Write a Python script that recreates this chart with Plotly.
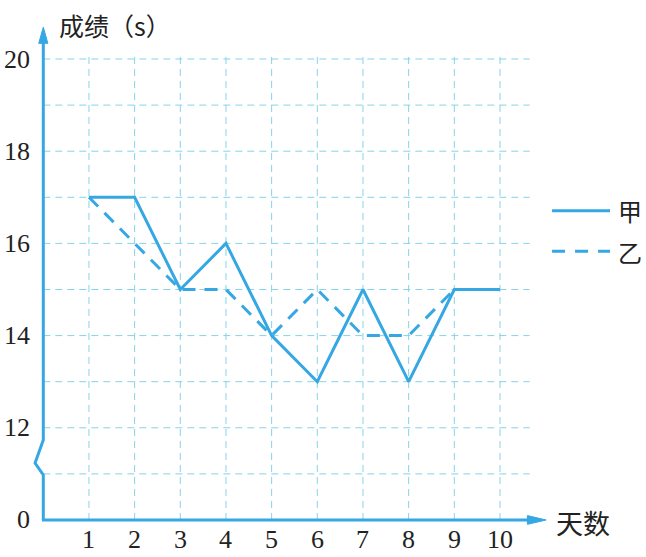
import plotly.graph_objects as go

days = [1, 2, 3, 4, 5, 6, 7, 8, 9, 10]
jia = [17, 17, 15, 16, 14, 13, 15, 13, 15, 15]
yi_days = [1, 2, 3, 4, 5, 6, 7, 8, 9]
yi = [17, 16, 15, 15, 14, 15, 14, 14, 15]
x_tick_vals = [1, 2, 3, 4, 5, 6, 7, 8, 9, 10]
x_tick_text = ["1", "2", "3", "4", "5", "6", "7", "8", "9", "10"]
y_tick_vals = [10, 12, 14, 16, 18, 20]   # 10 on the plot stands for the broken-axis "0"
y_tick_text = ["0", "12", "14", "16", "18", "20"]
h_grid = [11, 12, 13, 14, 15, 16, 17, 18, 19, 20]
series_names = ["甲", "乙"]
y_title = "成绩（s）"
x_title = "天数"

LINE = "#35a7e3"
GRID = "#86d3e8"
SERIF = "Liberation Serif, Times New Roman, serif"
CJK = "Noto Sans CJK SC"

fig = go.Figure()

shapes = []
# grid
for g in h_grid:
    shapes.append(dict(type="line", xref="x", yref="y", x0=0, x1=10.65, y0=g, y1=g,
                       line=dict(color=GRID, width=1, dash="7px,5px"), layer="below"))
for v in x_tick_vals:
    shapes.append(dict(type="line", xref="x", yref="y", x0=v, x1=v, y0=10, y1=20.13,
                       line=dict(color=GRID, width=1, dash="7px,5px"), layer="below"))
# y axis with break
shapes.append(dict(type="path", xref="x", yref="y",
                   path="M 0 10 L 0 10.976 L -0.18 11.236 L 0 11.735 L 0 20.4",
                   line=dict(color=LINE, width=3)))
shapes.append(dict(type="path", xref="x", yref="y",
                   path="M 0 20.69 L 0.1 20.34 L -0.1 20.34 Z",
                   fillcolor=LINE, line=dict(color=LINE, width=1)))
# x axis
shapes.append(dict(type="line", xref="x", yref="y", x0=-0.03, x1=10.7, y0=10, y1=10,
                   line=dict(color=LINE, width=3)))
shapes.append(dict(type="path", xref="x", yref="y",
                   path="M 11.01 10 L 10.6 10.095 L 10.6 9.905 Z",
                   fillcolor=LINE, line=dict(color=LINE, width=1)))
# legend samples
shapes.append(dict(type="line", xref="x", yref="y", x0=11.14, x1=12.41, y0=16.71, y1=16.71,
                   line=dict(color=LINE, width=3)))
shapes.append(dict(type="line", xref="x", yref="y", x0=11.14, x1=12.41, y0=15.83, y1=15.83,
                   line=dict(color=LINE, width=3, dash="13px,10px")))

fig.add_trace(go.Scatter(x=days, y=jia, mode="lines", name=series_names[0],
                         line=dict(color=LINE, width=3), showlegend=False))
fig.add_trace(go.Scatter(x=yi_days, y=yi, mode="lines", name=series_names[1],
                         line=dict(color=LINE, width=3, dash="13px,9px"), showlegend=False))

annotations = []
for v, t in zip(y_tick_vals, y_tick_text):
    annotations.append(dict(x=-0.245, y=v, xref="x", yref="y", text=t, showarrow=False,
                            xanchor="right", yanchor="middle",
                            font=dict(family=SERIF, size=26, color="#222")))
for v, t in zip(x_tick_vals, x_tick_text):
    annotations.append(dict(x=v, y=9.58, xref="x", yref="y", text=t, showarrow=False,
                            xanchor="center", yanchor="middle",
                            font=dict(family=SERIF, size=26, color="#222")))
annotations.append(dict(x=0.3, y=20.74, xref="x", yref="y", text=y_title, showarrow=False,
                        xanchor="left", yanchor="middle",
                        font=dict(family=CJK, size=25, color="#222")))
annotations.append(dict(x=11.18, y=9.94, xref="x", yref="y", text=x_title, showarrow=False,
                        xanchor="left", yanchor="middle",
                        font=dict(family=CJK, size=27, color="#222")))
annotations.append(dict(x=12.55, y=16.71, xref="x", yref="y", text=series_names[0], showarrow=False,
                        xanchor="left", yanchor="middle",
                        font=dict(family=CJK, size=24, color="#222")))
annotations.append(dict(x=12.55, y=15.83, xref="x", yref="y", text=series_names[1], showarrow=False,
                        xanchor="left", yanchor="middle",
                        font=dict(family=CJK, size=24, color="#222")))

fig.update_layout(
    width=646, height=557, autosize=False,
    margin=dict(l=0, r=0, t=0, b=0, pad=0),
    paper_bgcolor="white", plot_bgcolor="white",
    shapes=shapes, annotations=annotations,
    xaxis=dict(range=[-0.948, 13.197], visible=False, fixedrange=True),
    yaxis=dict(range=[9.197, 21.28], visible=False, fixedrange=True),
)

fig.write_html("out.html", config={"displayModeBar": False},
               post_script="document.body.style.margin='0';document.body.style.overflow='hidden';")
